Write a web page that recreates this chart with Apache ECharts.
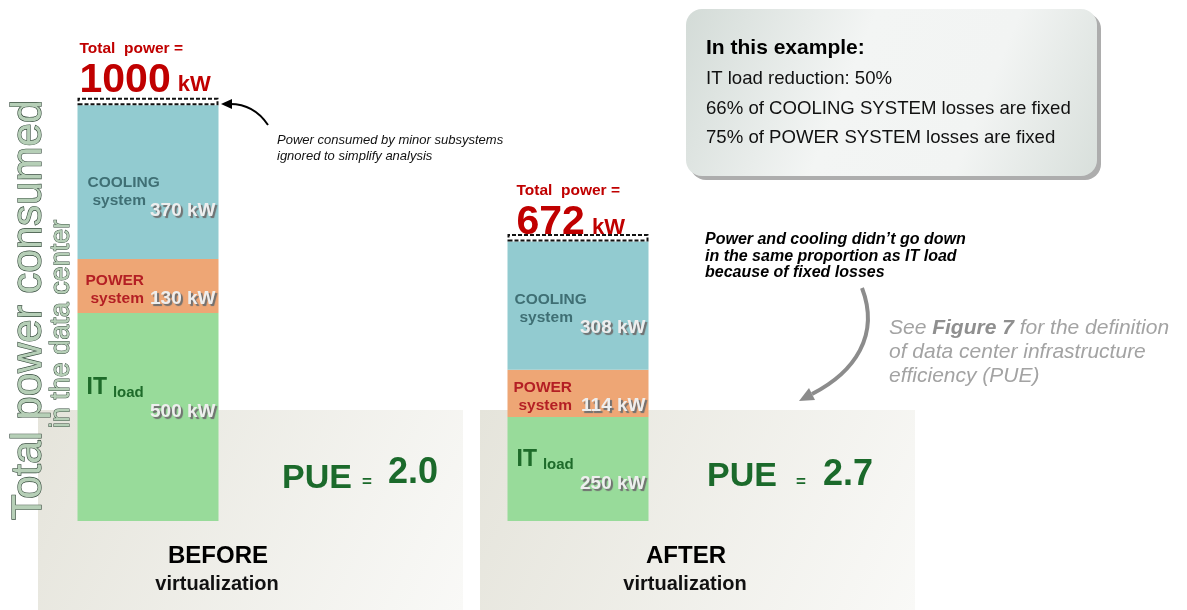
<!DOCTYPE html>
<html>
<head>
<meta charset="utf-8">
<title>Before / after virtualization</title>
<script src="https://cdn.jsdelivr.net/npm/echarts@6/dist/echarts.min.js"></script>
<style>
html, body { margin: 0; padding: 0; background: #fff; }
#container { width: 1187px; height: 610px; }
</style>
</head>
<body>
<div id="container"></div>
<script>
// data (kW)
var stages = ['BEFORE', 'AFTER'];
var stageSub = ['virtualization', 'virtualization'];
var itLoad = [500, 250];
var powerSystem = [130, 114];
var coolingSystem = [370, 308];
var minorSubsystems = [18, 18];   // dashed box, ignored in the analysis

var totals = itLoad.map(function (v, i) { return v + powerSystem[i] + coolingSystem[i]; });
var pue = totals.map(function (t, i) { return (t / itLoad[i]).toFixed(1); });

var myChart = echarts.init(document.getElementById('container'));

var FONT = 'Arial, "Liberation Sans", sans-serif';
var valueStyle = {
    fontSize: 19, fontWeight: 'bold', color: '#eeeeee', fontFamily: FONT,
    textShadowColor: '#6f6f6f', textShadowOffsetX: 2, textShadowOffsetY: 2, textShadowBlur: 1
};

// label placement inside each segment [dx, dy] from segment top-left
var labelPos = {
    it: [[9, 63], [9, 31]],
    power: [[8, 13], [6, 9]],
    cooling: [[10, 68], [7, 48]],
    total: [[2, -58], [9, -52]]
};

function items(values, key) {
    return values.map(function (v, i) {
        var p = labelPos[key][i];
        return {
            value: v,
            label: { position: p, width: 141 - p[0] - 3 }
        };
    });
}

function segLabel(formatter, rich) {
    return {
        show: true, align: 'left', verticalAlign: 'top', overflow: 'none',
        fontFamily: FONT, formatter: formatter, rich: rich
    };
}

var vRight = function (lh, va) {
    return Object.assign({}, valueStyle, { align: 'right', lineHeight: lh, verticalAlign: va });
};

function txt(x, y, text, font, fill, align, va, extra) {
    var o = {
        type: 'text', x: x, y: y, z: 10,
        style: {
            text: text, font: font, fill: fill,
            textAlign: align || 'left', textVerticalAlign: va || 'middle',
            align: align || 'left', verticalAlign: va || 'middle'
        }
    };
    if (extra) Object.assign(o.style, extra);
    return o;
}

var panelFill = new echarts.graphic.LinearGradient(0, 0, 1, 1, [
    { offset: 0, color: '#e5e4db' }, { offset: 1, color: '#f9f9f7' }
]);
var boxFill = new echarts.graphic.LinearGradient(0, 0, 1, 1, [
    { offset: 0, color: '#d3dbd7' }, { offset: 0.4, color: '#f3f5f4' },
    { offset: 0.7, color: '#f2f4f3' }, { offset: 1, color: '#d8dfdb' }
]);

var graphics = [
    // background panels
    { type: 'rect', z: -1, shape: { x: 38, y: 410, width: 425, height: 200 }, style: { fill: panelFill } },
    { type: 'rect', z: -1, shape: { x: 480, y: 410, width: 435, height: 200 }, style: { fill: panelFill } },
    // info box
    { type: 'rect', z: 1, shape: { x: 690, y: 13, width: 411, height: 167, r: 16 }, style: { fill: '#adadad' } },
    { type: 'rect', z: 2, shape: { x: 686, y: 9, width: 411, height: 167, r: 16 }, style: { fill: boxFill } },
    txt(706, 48, 'In this example:', 'bold 21px ' + FONT, '#000'),
    txt(706, 79, 'IT load reduction: 50%', '18.6px ' + FONT, '#111'),
    txt(706, 109, '66% of COOLING SYSTEM losses are fixed', '18.6px ' + FONT, '#111'),
    txt(706, 138, '75% of POWER SYSTEM losses are fixed', '18.6px ' + FONT, '#111'),
    // y title
    {
        type: 'text', x: 29, y: 310, rotation: Math.PI / 2, z: 10,
        style: {
            text: 'Total power consumed', font: '42px ' + FONT, fill: '#b6cfb7',
            stroke: '#33483a', lineWidth: 1.2,
            textAlign: 'center', textVerticalAlign: 'middle', align: 'center', verticalAlign: 'middle'
        }
    },
    {
        type: 'text', x: 62, y: 324, rotation: Math.PI / 2, z: 10,
        style: {
            text: 'in the data center', font: '27px ' + FONT, fill: '#b6cfb7',
            stroke: '#33483a', lineWidth: 1,
            textAlign: 'center', textVerticalAlign: 'middle', align: 'center', verticalAlign: 'middle'
        }
    },
    // minor subsystems note + arrow
    txt(277, 140, 'Power consumed by minor subsystems', 'italic 13px ' + FONT, '#111'),
    txt(277, 156, 'ignored to simplify analysis', 'italic 13px ' + FONT, '#111'),
    {
        type: 'bezierCurve', z: 10,
        shape: { x1: 268, y1: 125, cpx1: 258, cpy1: 110, cpx2: 246, cpy2: 104, x2: 230, y2: 104 },
        style: { stroke: '#000', lineWidth: 2, fill: null }
    },
    { type: 'polygon', z: 10, shape: { points: [[221, 104], [232, 99], [232, 109]] }, style: { fill: '#000' } },
    // fixed losses note + arrow
    txt(705, 240, 'Power and cooling didn\u2019t go down', 'italic bold 16px ' + FONT, '#000'),
    txt(705, 257, 'in the same proportion as IT load', 'italic bold 16px ' + FONT, '#000'),
    txt(705, 273, 'because of fixed losses', 'italic bold 16px ' + FONT, '#000'),
    {
        type: 'bezierCurve', z: 10,
        shape: { x1: 862, y1: 288, cpx1: 880, cpy1: 335, cpx2: 855, cpy2: 372, x2: 812, y2: 394 },
        style: { stroke: '#8c8c8c', lineWidth: 4, fill: null }
    },
    { type: 'polygon', z: 10, shape: { points: [[799, 401], [815, 400], [809, 388]] }, style: { fill: '#8c8c8c' } },
    {
        type: 'text', x: 889, y: 328, z: 10,
        style: {
            text: '{i|See }{b|Figure 7}{i| for the definition}',
            rich: {
                i: { font: 'italic 21px ' + FONT, fill: '#a3a3a3', color: '#a3a3a3' },
                b: { font: 'italic bold 21px ' + FONT, fill: '#8f8f8f', color: '#8f8f8f' }
            },
            textVerticalAlign: 'middle', verticalAlign: 'middle'
        }
    },
    txt(889, 352, 'of data center infrastructure', 'italic 21px ' + FONT, '#a3a3a3'),
    txt(889, 376, 'efficiency (PUE)', 'italic 21px ' + FONT, '#a3a3a3'),
    // PUE
    txt(282, 479, 'PUE', 'bold 34px ' + FONT, '#1b6a2b'),
    txt(362, 482, '=', 'bold 17px ' + FONT, '#1b6a2b'),
    txt(388, 473, pue[0], 'bold 36px ' + FONT, '#1b6a2b'),
    txt(707, 477, 'PUE', 'bold 34px ' + FONT, '#1b6a2b'),
    txt(796, 482, '=', 'bold 17px ' + FONT, '#1b6a2b'),
    txt(823, 475, pue[1], 'bold 36px ' + FONT, '#1b6a2b'),
    // stage captions
    txt(218, 556, stages[0], 'bold 24px ' + FONT, '#000', 'center'),
    txt(217, 584, stageSub[0], 'bold 20px ' + FONT, '#111', 'center'),
    txt(686, 556, stages[1], 'bold 24px ' + FONT, '#000', 'center'),
    txt(685, 584, stageSub[1], 'bold 20px ' + FONT, '#111', 'center')
];

var option = {
    backgroundColor: '#ffffff',
    animation: false,
    grid: { left: -67, width: 860, top: 22, bottom: 89, outerBoundsMode: 'none', containLabel: false },
    xAxis: {
        type: 'category', data: stages, show: false
    },
    yAxis: {
        type: 'value', min: 0, max: 1200, show: false, splitLine: { show: false }
    },
    graphic: graphics,
    series: [{
        name: 'IT load', type: 'bar', stack: 'total', barWidth: 141,
        itemStyle: { color: '#98db9a' },
        label: segLabel(function (p) { return '{a|IT}{b|load}\n{v|' + p.value + ' kW}'; }, {
            a: { fontSize: 23, fontWeight: 'bold', color: '#1e6b2a', lineHeight: 24, fontFamily: FONT },
            b: { fontSize: 15, fontWeight: 'bold', color: '#1e6b2a', lineHeight: 18, verticalAlign: 'bottom', padding: [0, 0, 0, 6], fontFamily: FONT },
            v: vRight(24, 'middle')
        }),
        data: items(itLoad, 'it')
    }, {
        name: 'POWER system', type: 'bar', stack: 'total', barWidth: 141,
        itemStyle: { color: '#eea675' },
        label: segLabel(function (p) { return '{n|POWER}\n{s|system}{v|' + p.value + ' kW}'; }, {
            n: { fontSize: 15.5, fontWeight: 'bold', color: '#b41f24', lineHeight: 18, fontFamily: FONT },
            s: { fontSize: 15.5, fontWeight: 'bold', color: '#b41f24', lineHeight: 18, padding: [0, 0, 0, 5], fontFamily: FONT },
            v: vRight(18, 'middle')
        }),
        data: items(powerSystem, 'power')
    }, {
        name: 'COOLING system', type: 'bar', stack: 'total', barWidth: 141,
        itemStyle: { color: '#92cbd0' },
        label: segLabel(function (p) { return '{n|COOLING}\n{s|system}{v|' + p.value + ' kW}'; }, {
            n: { fontSize: 15.5, fontWeight: 'bold', color: '#3f6f74', lineHeight: 20, fontFamily: FONT },
            s: { fontSize: 15.5, fontWeight: 'bold', color: '#3f6f74', lineHeight: 16, verticalAlign: 'top', padding: [0, 0, 0, 5], fontFamily: FONT },
            v: vRight(36, 'middle')
        }),
        data: items(coolingSystem, 'cooling')
    }, {
        name: 'minor', type: 'bar', stack: 'total', barWidth: 141,
        itemStyle: { color: 'rgba(0,0,0,0)', borderColor: '#111', borderWidth: 2, borderType: [4, 2] },
        label: segLabel(function (p) { return '{t|Total  power =}\n{n|' + totals[p.dataIndex] + '}{u|kW}'; }, {
            t: { fontSize: 15.5, fontWeight: 'bold', color: '#c00000', lineHeight: 18, fontFamily: FONT },
            n: { fontSize: 41, fontWeight: 'bold', color: '#c00000', lineHeight: 46, fontFamily: FONT },
            u: { fontSize: 22, fontWeight: 'bold', color: '#c00000', lineHeight: 46, padding: [9, 0, 0, 7], fontFamily: FONT }
        }),
        data: items(minorSubsystems, 'total')
    }]
};

myChart.setOption(option);
</script>
</body>
</html>
